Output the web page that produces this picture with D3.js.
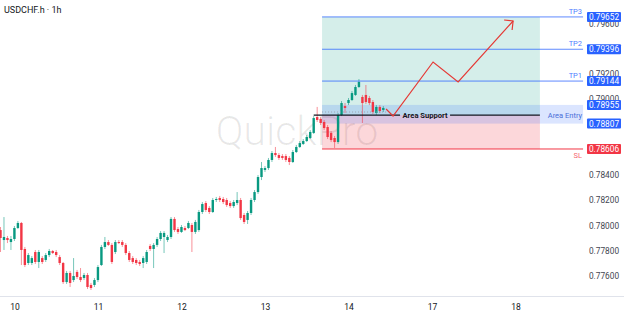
<!DOCTYPE html>
<html>
<head>
<meta charset="utf-8">
<title>USDCHF.h 1h</title>
<script src="https://cdn.jsdelivr.net/npm/d3@7"></script>
<style>
  body { margin: 0; background: #fff; }
  svg { display: block; font-family: Roboto, "Noto Sans", sans-serif; }
</style>
</head>
<body>
<script>
// hourly candles
var opens = [.77964,.77885,.77901,.77869,.77893,.77980,.78020,.77814,.77703,.77703,
  .77790,.77711,.77742,.77727,.77766,.77798,.77790,.77750,.77703,.77552,
  .77624,.77568,.77632,.77592,.77584,.77608,.77529,.77529,.77568,.77687,
  .77830,.77869,.77846,.77790,.77869,.77869,.77846,.77782,.77742,.77727,
  .77711,.77703,.77711,.77838,.77814,.77846,.77893,.77909,.77885,.77909,
  .78052,.77972,.77949,.77980,.77980,.78004,.77949,.77964,.78107,.78178,
  .78139,.78107,.78202,.78218,.78210,.78202,.78178,.78154,.78178,.78202,
  .78083,.78044,.78099,.78202,.78265,.78384,.78440,.78455,.78519,.78574,
  .78558,.78550,.78550,.78535,.78503,.78582,.78622,.78646,.78669,.78693,
  .78733,.78859,.78844,.78820,.78780,.78733,.78693,.78661,.78875,.78946,
  .78970,.78994,.79034,.79097,.79018,.79034,.79010,.78978,.78891,.78939,.78915];
var highs = [.77988,.78067,.77917,.77917,.77996,.78036,.78028,.77830,.77782,.77758,
  .77806,.77806,.77758,.77782,.77814,.77806,.77806,.77766,.77711,.77640,
  .77640,.77742,.77648,.77663,.77624,.77624,.77545,.77584,.77687,.77846,
  .77909,.77885,.77861,.77885,.77885,.77885,.77861,.77798,.77758,.77742,
  .77727,.77758,.77806,.77853,.77861,.77909,.77956,.77956,.77925,.78067,
  .78067,.77988,.78004,.77996,.78036,.78020,.78044,.78123,.78186,.78194,
  .78154,.78218,.78226,.78234,.78226,.78218,.78194,.78202,.78265,.78218,
  .78099,.78115,.78218,.78281,.78400,.78503,.78471,.78535,.78590,.78622,
  .78574,.78566,.78566,.78550,.78598,.78638,.78669,.78685,.78717,.78756,
  .78867,.78939,.78859,.78836,.78796,.78748,.78709,.78891,.78986,.78970,
  .79010,.79065,.79113,.79160,.79034,.79113,.79026,.78994,.78954,.78954,.78946];
var lows = [.77790,.77806,.77861,.77806,.77877,.77972,.77687,.77671,.77687,.77687,
  .77695,.77663,.77695,.77711,.77750,.77774,.77750,.77687,.77537,.77537,
  .77513,.77552,.77576,.77552,.77568,.77497,.77489,.77513,.77552,.77679,
  .77814,.77838,.77695,.77774,.77853,.77830,.77766,.77711,.77695,.77687,
  .77679,.77663,.77695,.77798,.77663,.77830,.77877,.77782,.77869,.77893,
  .77949,.77933,.77941,.77956,.77972,.77790,.77933,.77949,.78091,.78107,
  .78091,.78099,.78186,.78186,.78170,.78147,.78139,.78139,.78162,.78044,
  .78012,.78012,.78083,.78186,.78250,.78360,.78424,.78440,.78503,.78543,
  .78519,.78519,.78503,.78479,.78495,.78574,.78614,.78638,.78661,.78685,
  .78725,.78820,.78796,.78756,.78685,.78661,.78614,.78646,.78867,.78891,
  .78954,.78986,.79026,.79089,.78812,.78962,.78954,.78883,.78875,.78891,.78899];
var closes = [.77901,.77909,.77885,.77893,.77980,.78020,.77806,.77687,.77766,.77742,
  .77711,.77790,.77711,.77766,.77798,.77782,.77766,.77703,.77552,.77624,
  .77545,.77600,.77592,.77568,.77608,.77513,.77505,.77568,.77671,.77830,
  .77869,.77846,.77711,.77869,.77861,.77846,.77782,.77727,.77711,.77703,
  .77695,.77742,.77790,.77814,.77846,.77893,.77941,.77941,.77909,.78052,
  .77964,.77949,.77988,.77964,.78020,.77949,.78028,.78107,.78170,.78123,
  .78107,.78202,.78210,.78202,.78186,.78162,.78154,.78186,.78202,.78059,
  .78028,.78099,.78202,.78265,.78384,.78455,.78455,.78519,.78574,.78558,
  .78535,.78535,.78519,.78503,.78582,.78622,.78653,.78669,.78701,.78741,
  .78851,.78836,.78812,.78772,.78701,.78677,.78661,.78875,.78970,.78931,
  .78994,.79049,.79097,.79137,.78970,.78978,.78970,.78899,.78939,.78907,.78931];

// day labels at the first bar of each day
var dayIdx = [4, 28, 52, 76, 100, 124, 148];
var dayLabels = ["10", "11", "12", "13", "14", "17", "18"];
var priceTicks = [0.776, 0.778, 0.780, 0.782, 0.784, 0.786, 0.788, 0.790, 0.792, 0.794, 0.796];

// long position tool
var tpPrices = [0.79144, 0.79396, 0.79652];
var tpNames = ["TP1", "TP2", "TP3"];
var slPrice = 0.78606;
var entryPrice = 0.78875;
var zoneHigh = 0.78955, zoneLow = 0.78807;
var boxFrom = 92.4, boxTo = 155, lineTo = 167.4, entryFrom = 90;

// projected path (bar index, price)
var pathIdx = [110.8, 112.8, 124.3, 131.5, 147.3];
var pathPrice = [0.78923, 0.78867, 0.79295, 0.79137, 0.79620];

var width = 624, height = 316;
var svg = d3.select("body").append("svg")
  .attr("width", width).attr("height", height);

var x = d3.scaleLinear().domain([0, 179]).range([0.5, 0.5 + 3.48 * 179]);
var y = d3.scaleLinear().domain([0.776, 0.784]).range([276, 175]);

var up = "#089981", down = "#f23645", blue = "#2962ff";

// watermark
svg.append("text")
  .attr("x", 297).attr("y", 145)
  .attr("text-anchor", "middle")
  .attr("font-size", 41).attr("font-weight", 300)
  .attr("fill", "rgba(0,0,0,0.09)")
  .text("QuickPro");

// position tool zones
svg.append("rect")
  .attr("x", x(boxFrom)).attr("width", x(boxTo) - x(boxFrom))
  .attr("y", y(tpPrices[2])).attr("height", y(entryPrice) - y(tpPrices[2]))
  .attr("fill", "rgba(8,153,129,0.17)");
svg.append("rect")
  .attr("x", x(boxFrom)).attr("width", x(boxTo) - x(boxFrom))
  .attr("y", y(entryPrice)).attr("height", y(slPrice) - y(entryPrice))
  .attr("fill", "rgba(242,54,69,0.2)");
svg.append("rect")
  .attr("x", x(boxFrom)).attr("width", x(lineTo) - x(boxFrom))
  .attr("y", y(zoneHigh)).attr("height", y(zoneLow) - y(zoneHigh))
  .attr("fill", "rgba(41,98,255,0.17)");

// candles
var bars = d3.range(opens.length);
var g = svg.append("g");
g.selectAll("line.wick").data(bars).enter().append("line")
  .attr("x1", function(i) { return x(i); })
  .attr("x2", function(i) { return x(i); })
  .attr("y1", function(i) { return y(highs[i]); })
  .attr("y2", function(i) { return y(lows[i]); })
  .attr("stroke", function(i) { return closes[i] >= opens[i] ? up : down; })
  .attr("stroke-opacity", 0.55)
  .attr("stroke-width", 1);
g.selectAll("rect.body").data(bars).enter().append("rect")
  .attr("x", function(i) { return x(i) - 1.2; })
  .attr("width", 2.4)
  .attr("y", function(i) { return y(Math.max(opens[i], closes[i])); })
  .attr("height", function(i) { return Math.max(1, Math.abs(y(opens[i]) - y(closes[i]))); })
  .attr("fill", function(i) { return closes[i] >= opens[i] ? up : down; });

// dotted line inside entry zone
svg.append("line")
  .attr("x1", x(boxFrom)).attr("x2", x(111.2))
  .attr("y1", y(0.78899)).attr("y2", y(0.78899))
  .attr("stroke", "#9598a1").attr("stroke-dasharray", "1,2").attr("stroke-width", 0.8);

// TP / SL lines
tpPrices.forEach(function(p, k) {
  svg.append("line")
    .attr("x1", x(boxFrom)).attr("x2", x(lineTo))
    .attr("y1", y(p)).attr("y2", y(p))
    .attr("stroke", blue).attr("stroke-opacity", 0.75).attr("stroke-width", 1);
  svg.append("text")
    .attr("x", x(lineTo) - 1).attr("y", y(p) - 3)
    .attr("text-anchor", "end").attr("font-size", 7.5)
    .attr("fill", blue).attr("fill-opacity", 0.85)
    .text(tpNames[k]);
});
svg.append("line")
  .attr("x1", x(boxFrom)).attr("x2", x(lineTo))
  .attr("y1", y(slPrice)).attr("y2", y(slPrice))
  .attr("stroke", down).attr("stroke-width", 1);
svg.append("text")
  .attr("x", x(lineTo) - 1).attr("y", y(slPrice) + 9)
  .attr("text-anchor", "end").attr("font-size", 7.5)
  .attr("fill", down).attr("fill-opacity", 0.8)
  .text("SL");
svg.append("text")
  .attr("x", x(lineTo) - 1).attr("y", y(entryPrice) + 2.5)
  .attr("text-anchor", "end").attr("font-size", 7.5)
  .attr("fill", "#4a6fd8")
  .text("Area Entry");

// area support line with label
var labelMid = 122;
svg.append("line")
  .attr("x1", x(entryFrom)).attr("x2", x(labelMid) - 25)
  .attr("y1", y(entryPrice)).attr("y2", y(entryPrice))
  .attr("stroke", "#131722").attr("stroke-width", 1.3);
svg.append("line")
  .attr("x1", x(labelMid) + 25).attr("x2", x(boxTo))
  .attr("y1", y(entryPrice)).attr("y2", y(entryPrice))
  .attr("stroke", "#131722").attr("stroke-width", 1.3);
svg.append("text")
  .attr("x", x(labelMid)).attr("y", y(entryPrice) + 2.7)
  .attr("text-anchor", "middle").attr("font-size", 7.6).attr("font-weight", 700)
  .attr("fill", "#131722")
  .text("Area Support");

// projected path
var pts = pathIdx.map(function(d, k) { return [x(d), y(pathPrice[k])]; });
svg.append("path")
  .attr("d", d3.line()(pts))
  .attr("fill", "none").attr("stroke", "#e53935").attr("stroke-width", 1.2);
var tip = pts[pts.length - 1];
svg.append("path")
  .attr("d", d3.line()([[tip[0] - 9, tip[1] - 1], tip, [tip[0] - 1, tip[1] + 9]]))
  .attr("fill", "none").attr("stroke", "#e53935").attr("stroke-width", 1.2);

// price axis
var yAxis = svg.append("g")
  .attr("transform", "translate(604,0)")
  .call(d3.axisRight(y).tickValues(priceTicks).tickSize(0).tickFormat(d3.format(".5f")));
yAxis.select(".domain").remove();
yAxis.selectAll("text")
  .attr("x", 0).attr("text-anchor", "middle")
  .attr("font-size", 8.3).attr("fill", "#434651")
  .attr("font-family", "Roboto, sans-serif");

// level price tags
var tags = [
  { p: tpPrices[2], c: blue }, { p: tpPrices[1], c: blue }, { p: tpPrices[0], c: blue },
  { p: zoneHigh, c: blue }, { p: zoneLow, c: blue }, { p: slPrice, c: down }
];
tags.forEach(function(t) {
  svg.append("rect")
    .attr("x", 587).attr("width", 34)
    .attr("y", y(t.p) - 5).attr("height", 10)
    .attr("rx", 1).attr("fill", t.c);
  svg.append("text")
    .attr("x", 604).attr("y", y(t.p) + 3)
    .attr("text-anchor", "middle").attr("font-size", 8.3)
    .attr("fill", "#fff")
    .text(d3.format(".5f")(t.p));
});

// time axis
var xAxis = svg.append("g")
  .attr("transform", "translate(0,296)")
  .call(d3.axisBottom(x).tickValues(dayIdx).tickSize(0)
    .tickFormat(function(d, k) { return dayLabels[k]; }));
xAxis.select(".domain").attr("d", "M0,0.5H" + width).attr("stroke", "#e0e3eb");
xAxis.selectAll("text")
  .attr("y", 8).attr("font-size", 8.5).attr("fill", "#131722")
  .attr("font-family", "Roboto, sans-serif");

// title
svg.append("text")
  .attr("x", 4).attr("y", 13)
  .attr("font-size", 9).attr("fill", "#131722")
  .text("USDCHF.h · 1h");
</script>
</body>
</html>
